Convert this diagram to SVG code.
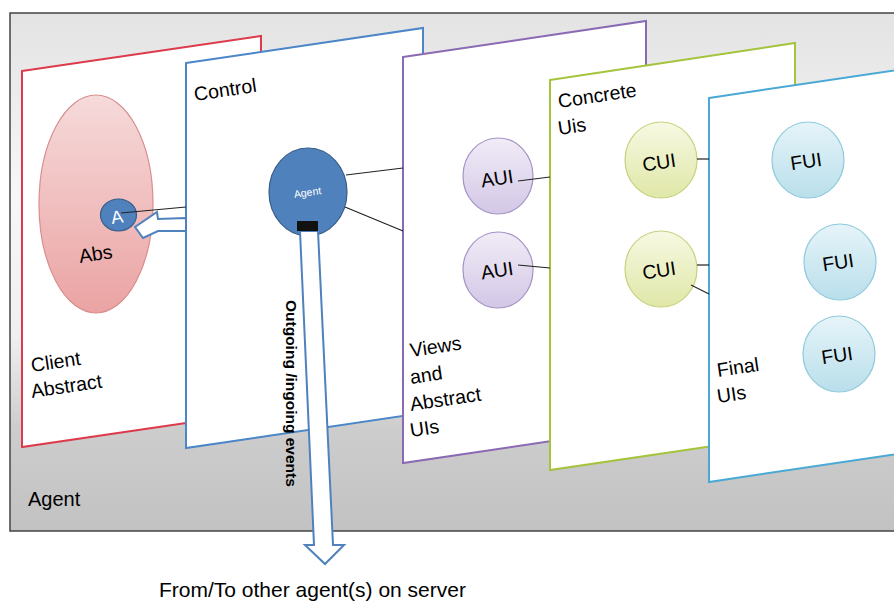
<svg xmlns="http://www.w3.org/2000/svg" width="894" height="601" viewBox="0 0 894 601">
  <defs>
    <linearGradient id="bg" gradientUnits="userSpaceOnUse" x1="0" y1="13" x2="0" y2="531">
      <stop offset="0" stop-color="#e3e3e3"/>
      <stop offset="0.35" stop-color="#f7f7f7"/>
      <stop offset="0.62" stop-color="#f0f0f0"/>
      <stop offset="0.8" stop-color="#cdcdcd"/>
      <stop offset="1" stop-color="#c2c2c2"/>
    </linearGradient>
    <linearGradient id="pink" x1="0" y1="0" x2="0" y2="1">
      <stop offset="0" stop-color="#f6dada"/>
      <stop offset="1" stop-color="#eba3a3"/>
    </linearGradient>
    <linearGradient id="purple" x1="0" y1="0" x2="0" y2="1">
      <stop offset="0" stop-color="#f1ecf7"/>
      <stop offset="1" stop-color="#d3c7e6"/>
    </linearGradient>
    <linearGradient id="lime" x1="0" y1="0" x2="0" y2="1">
      <stop offset="0" stop-color="#f7f9e2"/>
      <stop offset="1" stop-color="#e0e7a8"/>
    </linearGradient>
    <linearGradient id="sky" x1="0" y1="0" x2="0" y2="1">
      <stop offset="0" stop-color="#e6f4f9"/>
      <stop offset="1" stop-color="#b9dfeb"/>
    </linearGradient>
  </defs>
  <style>
    text { font-family: "Liberation Sans", Arial, sans-serif; fill: #000; }
    .lbl { font-size: 19.5px; }
    .cl { font-size: 19.5px; text-anchor: middle; }
    .panel { fill: #ffffff; stroke-width: 2; }
    .conn { stroke: #222; stroke-width: 1.2; fill: none; }
    .aui { fill: url(#purple); stroke: #a593c6; stroke-width: 1.2; }
    .cui { fill: url(#lime); stroke: #c8d27e; stroke-width: 1.2; }
    .fui { fill: url(#sky); stroke: #8ecadc; stroke-width: 1.2; }
    .hollow { fill: #ffffff; stroke: #4f81bd; stroke-width: 2; stroke-linejoin: miter; }
  </style>

  <!-- background box -->
  <rect x="10" y="13" width="900" height="518" fill="url(#bg)" stroke="#444" stroke-width="1.5"/>
  <text x="28" y="506" style="font-size:20px">Agent</text>

  <!-- Client Abstract panel -->
  <g id="panel-client">
    <polygon class="panel" stroke="#dd3b4b" points="22,71 261,36 261,412 22,447"/>
    <ellipse cx="96" cy="204" rx="57" ry="109" fill="url(#pink)" stroke="#d98e8e" stroke-width="1.2"/>
    <text class="lbl" x="80" y="263" transform="rotate(-8.5 80 263)">Abs</text>
    <text class="lbl" x="32" y="372" transform="rotate(-8.5 32 372)">Client</text>
    <text class="lbl" x="32" y="398" transform="rotate(-8.5 32 398)">Abstract</text>
  </g>
  <g id="node-A">
    <ellipse cx="118.5" cy="215" rx="18" ry="16" fill="#4f81bd" stroke="#385d8a" stroke-width="1.2"/>
    <text x="118" y="223" transform="rotate(-8.5 118 223)" style="font-size:18px;fill:#fff;text-anchor:middle">A</text>
  </g>

  <!-- Control panel -->
  <g id="panel-control">
    <polygon class="panel" stroke="#4a86c8" points="186,63 423,28 423,413 186,448"/>
    <text class="lbl" x="195" y="101" transform="rotate(-8.5 195 101)">Control</text>
  </g>

  <!-- Views and Abstract UIs panel -->
  <g id="panel-views">
    <polygon class="panel" stroke="#8a6ab4" points="403,57 646,21 646,427 403,463"/>
    <text class="lbl" x="411" y="357" transform="rotate(-8.5 411 357)">Views</text>
    <text class="lbl" x="411" y="384" transform="rotate(-8.5 411 384)">and</text>
    <text class="lbl" x="411" y="411" transform="rotate(-8.5 411 411)">Abstract</text>
    <text class="lbl" x="411" y="437" transform="rotate(-8.5 411 437)">UIs</text>
  </g>
  <g id="node-aui1">
    <ellipse class="aui" cx="498" cy="176" rx="35" ry="38"/>
    <text class="cl" x="498" y="185" transform="rotate(-8.5 498 185)">AUI</text>
  </g>
  <g id="node-aui2">
    <ellipse class="aui" cx="498" cy="270" rx="35" ry="38"/>
    <text class="cl" x="498" y="277" transform="rotate(-8.5 498 277)">AUI</text>
  </g>

  <!-- Concrete UIs panel -->
  <g id="panel-concrete">
    <polygon class="panel" stroke="#a3c43c" points="550,80 795,43 795,434 550,470"/>
    <text class="lbl" x="559" y="108" transform="rotate(-8.5 559 108)">Concrete</text>
    <text class="lbl" x="559" y="135" transform="rotate(-8.5 559 135)">Uis</text>
  </g>
  <g id="node-cui1">
    <ellipse class="cui" cx="661" cy="160" rx="36" ry="38"/>
    <text class="cl" x="660" y="169" transform="rotate(-8.5 660 169)">CUI</text>
  </g>
  <g id="node-cui2">
    <ellipse class="cui" cx="661" cy="269" rx="36" ry="38"/>
    <text class="cl" x="660" y="277" transform="rotate(-8.5 660 277)">CUI</text>
  </g>

  <!-- Final UIs panel -->
  <g id="panel-final">
    <polygon class="panel" stroke="#4aa9d4" points="709,98 910,68 910,452 709,482"/>
    <text class="lbl" x="718" y="377" transform="rotate(-8.5 718 377)">Final</text>
    <text class="lbl" x="718" y="403" transform="rotate(-8.5 718 403)">UIs</text>
  </g>
  <g id="node-fui1">
    <ellipse class="fui" cx="808" cy="160" rx="36" ry="38"/>
    <text class="cl" x="807" y="168" transform="rotate(-8.5 807 168)">FUI</text>
  </g>
  <g id="node-fui2">
    <ellipse class="fui" cx="840" cy="262" rx="36" ry="38"/>
    <text class="cl" x="839" y="269" transform="rotate(-8.5 839 269)">FUI</text>
  </g>
  <g id="node-fui3">
    <ellipse class="fui" cx="839" cy="354" rx="36" ry="38"/>
    <text class="cl" x="838" y="362" transform="rotate(-8.5 838 362)">FUI</text>
  </g>

  <!-- Agent node -->
  <g id="node-agent">
    <ellipse cx="308" cy="192" rx="39" ry="44" fill="#4f81bd" stroke="#385d8a" stroke-width="1.2"/>
    <text x="308" y="196" transform="rotate(-8.5 308 196)" style="font-size:10.5px;fill:#fff;text-anchor:middle">Agent</text>
  </g>

  <!-- connectors -->
  <g id="connectors">
    <line class="conn" x1="121" y1="213" x2="186" y2="207"/>
    <polygon class="hollow" points="186,218 158,219 157,212 135,227 143,238 158,231 186,231"/>
    <line class="conn" x1="346" y1="175" x2="403" y2="168"/>
    <line class="conn" x1="345" y1="207" x2="403" y2="231"/>
    <line class="conn" x1="518" y1="181" x2="550" y2="177"/>
    <line class="conn" x1="518" y1="265" x2="550" y2="268"/>
    <line class="conn" x1="697" y1="159" x2="709" y2="159"/>
    <line class="conn" x1="697" y1="265" x2="709" y2="265"/>
    <line class="conn" x1="691" y1="285" x2="709" y2="294"/>
    <polygon class="hollow" points="300,231 318,231 333,545 344,545 325,564 305,545 314,545"/>
    <rect x="297" y="221" width="21" height="10" fill="#111"/>
    <text x="286" y="300" transform="rotate(90 286 300)" style="font-size:15.5px;font-weight:bold">Outgoing /ingoing events</text>
  </g>

  <text x="159" y="597" style="font-size:21px">From/To other agent(s) on server</text>
</svg>
